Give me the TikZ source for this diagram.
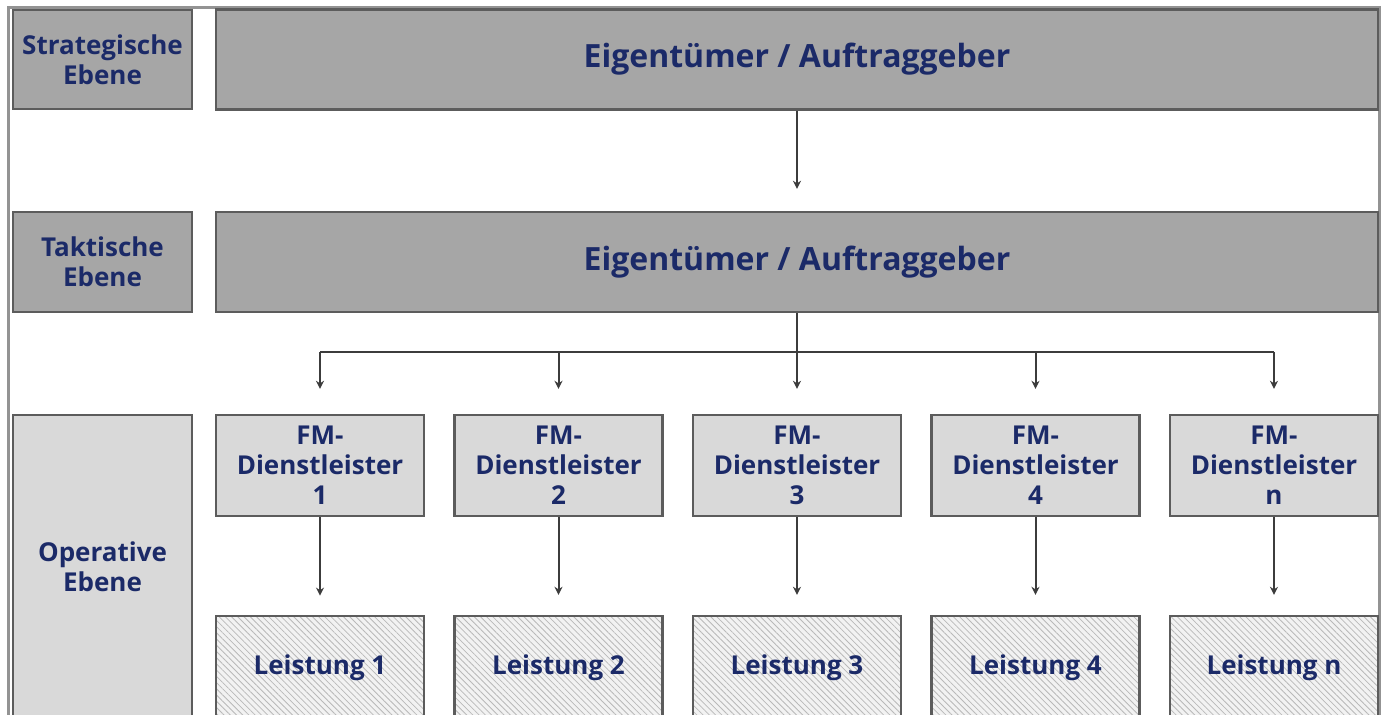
\documentclass[tikz,border=0pt]{standalone}
\usepackage{fontspec}
\setmainfont{Open Sans}
\usepackage{xcolor}
\usetikzlibrary{arrows.meta,patterns.meta}

\definecolor{navytext}{HTML}{1B2A68}
\definecolor{graydark}{HTML}{A6A6A6}
\definecolor{graylight}{HTML}{D9D9D9}
\definecolor{grayhatch}{HTML}{F2F2F2}
\definecolor{edgegray}{HTML}{5C5C5C}
\definecolor{linegray}{HTML}{3C3C3C}

\begin{document}
\begin{tikzpicture}[x=0.5pt,y=-0.5pt,
  ebox/.style={draw=edgegray, line width=1.2pt, text=navytext, align=center, inner sep=0pt,
    font=\bfseries\fontsize{13}{15}\selectfont},
  levelbox/.style={ebox, minimum width=89.5pt},
  topbox/.style={ebox, fill=graydark, minimum width=581pt, minimum height=50pt,
    font=\bfseries\fontsize{16}{19}\selectfont},
  fmbox/.style={ebox, fill=graylight, minimum width=104pt, minimum height=50.5pt},
  workbox/.style={ebox, minimum width=104pt, minimum height=52pt, preaction={fill=grayhatch},
    pattern={Lines[angle=-45,distance=2.2pt,line width=0.4pt]}, pattern color=gray!55},
  conn/.style={draw=linegray, line width=1pt},
  arr/.style={conn, -{Stealth[length=4pt,width=4pt]}}]
  \useasboundingbox (0,0) rectangle (1381,715);
  \clip (0,0) rectangle (1381,715);

  \draw [gray!85, line width=1.5pt] (8,730) -- (8,8) -- (1379,8) -- (1379,730);

  \node[levelbox, fill=graydark, minimum height=49.5pt] (strat) at (102.5,59.5) {Strategische\\Ebene};
  \node[levelbox, fill=graydark, minimum height=50pt] (takt) at (102.5,262) {Taktische\\Ebene};
  \node[levelbox, fill=graylight, minimum height=152pt] (oper) at (102.5,567) {Operative\\Ebene};

  \node[topbox] (own1) at (797,59.5) {Eigentümer / Auftraggeber};
  \node[topbox] (own2) at (797,262) {Eigentümer / Auftraggeber};

  \node[fmbox] (fm1) at (320,465.5) {FM-\\Dienstleister\\1};
  \node[fmbox] (fm2) at (558.5,465.5) {FM-\\Dienstleister\\2};
  \node[fmbox] (fm3) at (797,465.5) {FM-\\Dienstleister\\3};
  \node[fmbox] (fm4) at (1035.5,465.5) {FM-\\Dienstleister\\4};
  \node[fmbox] (fm5) at (1274,465.5) {FM-\\Dienstleister\\n};

  \node[workbox] (work1) at (320,668) {Leistung 1};
  \node[workbox] (work2) at (558.5,668) {Leistung 2};
  \node[workbox] (work3) at (797,668) {Leistung 3};
  \node[workbox] (work4) at (1035.5,668) {Leistung 4};
  \node[workbox] (work5) at (1274,668) {Leistung n};

  \draw [arr, shorten >=11pt] (own1) -- (own2);

  \coordinate (bus) at (797,352);
  \draw [conn] (own2.south) -- (bus);
  \draw [conn] (fm1.north |- bus) -- (fm5.north |- bus);
  \draw [arr, shorten >=12.5pt] (fm1.north |- bus) -- (fm1.north);
  \draw [arr, shorten >=12.5pt] (fm2.north |- bus) -- (fm2.north);
  \draw [arr, shorten >=12.5pt] (fm3.north |- bus) -- (fm3.north);
  \draw [arr, shorten >=12.5pt] (fm4.north |- bus) -- (fm4.north);
  \draw [arr, shorten >=12.5pt] (fm5.north |- bus) -- (fm5.north);

  \draw [arr, shorten >=10pt] (fm1) -- (work1);
  \draw [arr, shorten >=10pt] (fm2) -- (work2);
  \draw [arr, shorten >=10pt] (fm3) -- (work3);
  \draw [arr, shorten >=10pt] (fm4) -- (work4);
  \draw [arr, shorten >=10pt] (fm5) -- (work5);
\end{tikzpicture}
\end{document}
